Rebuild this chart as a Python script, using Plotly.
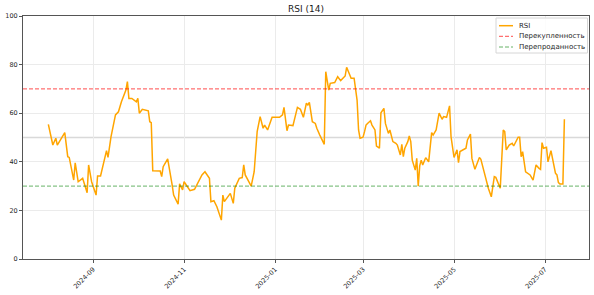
import plotly.graph_objects as go

dates = [
    "2024-08-02", "2024-08-05", "2024-08-07", "2024-08-08", "2024-08-13", "2024-08-15", "2024-08-16", "2024-08-19", "2024-08-20", "2024-08-22",
    "2024-08-25", "2024-08-26", "2024-08-28", "2024-08-29", "2024-08-31", "2024-09-03", "2024-09-04", "2024-09-06", "2024-09-10", "2024-09-11",
    "2024-09-13", "2024-09-16", "2024-09-18", "2024-09-20", "2024-09-23", "2024-09-24", "2024-09-25", "2024-09-27", "2024-09-30", "2024-10-01",
    "2024-10-02", "2024-10-04", "2024-10-08", "2024-10-09", "2024-10-10", "2024-10-11", "2024-10-16", "2024-10-17", "2024-10-18", "2024-10-21",
    "2024-10-22", "2024-10-24", "2024-10-25", "2024-10-28", "2024-10-29", "2024-10-31", "2024-11-01", "2024-11-04", "2024-11-05", "2024-11-08",
    "2024-11-13", "2024-11-15", "2024-11-18", "2024-11-19", "2024-11-21", "2024-11-23", "2024-11-26", "2024-11-27", "2024-11-28", "2024-12-02",
    "2024-12-04", "2024-12-05", "2024-12-08", "2024-12-10", "2024-12-11", "2024-12-12", "2024-12-16", "2024-12-18", "2024-12-20", "2024-12-22",
    "2024-12-24", "2024-12-25", "2024-12-27", "2024-12-30", "2025-01-04", "2025-01-06", "2025-01-07", "2025-01-09", "2025-01-10", "2025-01-13",
    "2025-01-16", "2025-01-18", "2025-01-20", "2025-01-22", "2025-01-23", "2025-01-24", "2025-01-26", "2025-01-28", "2025-01-29", "2025-01-31",
    "2025-02-03", "2025-02-04", "2025-02-06", "2025-02-07", "2025-02-10", "2025-02-12", "2025-02-14", "2025-02-17", "2025-02-18", "2025-02-21",
    "2025-02-23", "2025-02-25", "2025-02-26", "2025-02-27", "2025-03-01", "2025-03-02", "2025-03-03", "2025-03-04", "2025-03-06", "2025-03-07",
    "2025-03-09", "2025-03-10", "2025-03-12", "2025-03-13", "2025-03-15", "2025-03-16", "2025-03-18", "2025-03-19", "2025-03-21", "2025-03-23",
    "2025-03-24", "2025-03-26", "2025-03-27", "2025-03-28", "2025-03-29", "2025-03-31", "2025-04-01", "2025-04-02", "2025-04-03", "2025-04-05",
    "2025-04-06", "2025-04-07", "2025-04-08", "2025-04-09", "2025-04-10", "2025-04-12", "2025-04-14", "2025-04-16", "2025-04-17", "2025-04-19",
    "2025-04-21", "2025-04-23", "2025-04-24", "2025-04-26", "2025-04-28", "2025-04-29", "2025-04-30", "2025-05-01", "2025-05-03", "2025-05-04",
    "2025-05-05", "2025-05-07", "2025-05-09", "2025-05-10", "2025-05-12", "2025-05-13", "2025-05-15", "2025-05-18", "2025-05-19", "2025-05-22",
    "2025-05-24", "2025-05-26", "2025-05-28", "2025-05-29", "2025-05-30", "2025-06-01", "2025-06-03", "2025-06-04", "2025-06-05", "2025-06-07",
    "2025-06-09", "2025-06-10", "2025-06-13", "2025-06-14", "2025-06-15", "2025-06-16", "2025-06-18", "2025-06-21", "2025-06-23", "2025-06-25",
    "2025-06-27", "2025-06-28", "2025-06-29", "2025-06-30", "2025-07-02", "2025-07-03", "2025-07-05", "2025-07-08", "2025-07-09", "2025-07-10",
    "2025-07-11", "2025-07-13", "2025-07-14",
]

rsi = [
    55.4, 46.9, 49.7, 46.9, 52.0, 42.1, 41.8, 32.5, 39.6, 31.8,
    33.2, 31.4, 27.3, 38.7, 31.8, 26.3, 34.2, 34.2, 44.6, 41.8,
    50.3, 59.3, 60.6, 64.7, 69.5, 73.0, 66.1, 66.1, 64.7, 66.1,
    60.0, 61.6, 61.0, 56.5, 56.1, 36.3, 36.2, 33.9, 38.0, 41.2,
    38.0, 30.5, 26.3, 22.6, 30.9, 28.4, 31.8, 29.1, 28.1, 28.7,
    34.6, 35.9, 33.2, 23.6, 24.0, 21.5, 16.0, 26.3, 23.6, 27.0,
    22.9, 29.1, 33.2, 33.5, 38.7, 34.6, 30.0, 35.9, 52.4, 58.6,
    53.8, 55.1, 53.1, 58.3, 58.3, 59.3, 62.4, 52.8, 55.1, 54.9,
    62.4, 61.6, 58.3, 64.1, 63.4, 64.5, 56.5, 55.8, 53.8, 51.0,
    47.2, 77.1, 69.5, 72.3, 72.6, 75.0, 73.4, 75.3, 78.9, 74.4,
    74.4, 65.4, 53.1, 49.7, 50.1, 52.4, 55.1, 55.8, 56.9, 55.1,
    53.1, 46.5, 45.6, 60.2, 62.0, 55.8, 51.7, 53.1, 48.3, 47.6,
    46.9, 42.8, 47.2, 42.1, 45.6, 48.3, 50.6, 48.3, 40.7, 36.6,
    41.4, 30.0, 38.3, 40.7, 38.7, 41.7, 40.0, 52.0, 51.0, 53.1,
    60.0, 57.5, 58.6, 58.3, 63.0, 50.3, 44.9, 41.8, 44.9, 39.6,
    44.2, 44.9, 45.6, 49.0, 51.4, 41.4, 36.9, 41.8, 41.0, 33.9,
    29.1, 25.6, 33.9, 33.6, 32.2, 29.1, 53.1, 52.4, 44.9, 46.9,
    47.6, 46.5, 50.1, 50.1, 42.1, 44.2, 35.9, 34.6, 32.5, 38.7,
    37.3, 36.9, 47.9, 45.6, 46.0, 40.0, 44.6, 35.3, 34.6, 31.4,
    30.9, 30.9, 57.5,
]

OVERBOUGHT = 70
OVERSOLD = 30
MIDLINE = 50
title_text = "RSI (14)"
legend_names = ["RSI", "Перекупленность", "Перепроданность"]

FONT = "DejaVu Sans"
AXIS_COLOR = "#555555"
GRID_COLOR = "#ebebeb"
TEXT_COLOR = "#262626"
RSI_COLOR = "#FFA500"
OB_COLOR = "rgba(255,0,0,0.7)"
OS_COLOR = "rgba(0,128,0,0.6)"
DASH = "4px,2px"

W, H = 594, 295
ML, MR, MT, MB = 23, 5, 16, 36
PW, PH = W - ML - MR, H - MT - MB

fig = go.Figure()
fig.add_trace(go.Scatter(
    x=dates, y=rsi, mode="lines", name=legend_names[0], showlegend=False,
    line=dict(color=RSI_COLOR, width=1.5),
))

fig.add_hline(y=MIDLINE, line=dict(color="rgba(128,128,128,0.3)", width=1.5), layer="below")
fig.add_hline(y=OVERBOUGHT, line=dict(color=OB_COLOR, width=1, dash=DASH))
fig.add_hline(y=OVERSOLD, line=dict(color=OS_COLOR, width=1, dash=DASH))


# --- legend box drawn in paper coordinates (matplotlib-style) ---
def px_x(p):
    return (p - ML) / PW


def px_y(p):
    return (H - MB - p) / PH


fig.add_shape(type="rect", xref="paper", yref="paper",
              x0=px_x(496), x1=px_x(587.5), y0=px_y(53), y1=px_y(18),
              line=dict(color="#d6d6d6", width=1), fillcolor="rgba(255,255,255,0.85)",
              layer="above")
legend_styles = [(RSI_COLOR, "solid", 1.5), (OB_COLOR, DASH, 1), (OS_COLOR, DASH, 1)]
row_y = [25.7, 36.3, 47.0]
for name, (col, dash, lw), ry in zip(legend_names, legend_styles, row_y):
    fig.add_shape(type="line", xref="paper", yref="paper",
                  x0=px_x(499), x1=px_x(513), y0=px_y(ry), y1=px_y(ry),
                  line=dict(color=col, width=lw, dash=dash), layer="above")
    fig.add_annotation(text=name, xref="paper", yref="paper",
                       x=px_x(517), y=px_y(ry), xanchor="left", yanchor="middle",
                       showarrow=False, font=dict(family=FONT, size=7, color=TEXT_COLOR))

fig.update_layout(
    template="none",
    width=W, height=H,
    margin=dict(l=ML, r=MR, t=MT, b=MB),
    paper_bgcolor="white", plot_bgcolor="white",
    font=dict(family=FONT, size=6.5, color=TEXT_COLOR),
    title=dict(text=title_text, x=0.5, xref="paper", xanchor="center",
               y=1 - 9 / H, yref="container", yanchor="middle",
               font=dict(family=FONT, size=9, color="#1a1a1a")),
    showlegend=False,
)

fig.update_xaxes(
    type="date", range=["2024-07-16", "2025-07-30 12:00"],
    tick0="2024-09-01", dtick="M2", tickformat="%Y-%m", tickangle=-45,
    showgrid=True, gridcolor=GRID_COLOR, gridwidth=0.8,
    showline=True, mirror=True, linecolor=AXIS_COLOR, linewidth=1,
    ticks="outside", ticklen=3, tickcolor=AXIS_COLOR, zeroline=False,
    tickfont=dict(family=FONT, size=6.5, color=TEXT_COLOR),
)
fig.update_yaxes(
    range=[0, 100], dtick=20, tick0=0,
    showgrid=True, gridcolor=GRID_COLOR, gridwidth=0.8,
    showline=True, mirror=True, linecolor=AXIS_COLOR, linewidth=1,
    ticks="outside", ticklen=3, tickcolor=AXIS_COLOR, zeroline=False,
    tickfont=dict(family=FONT, size=6.5, color=TEXT_COLOR),
)

fig.write_html("out.html")
